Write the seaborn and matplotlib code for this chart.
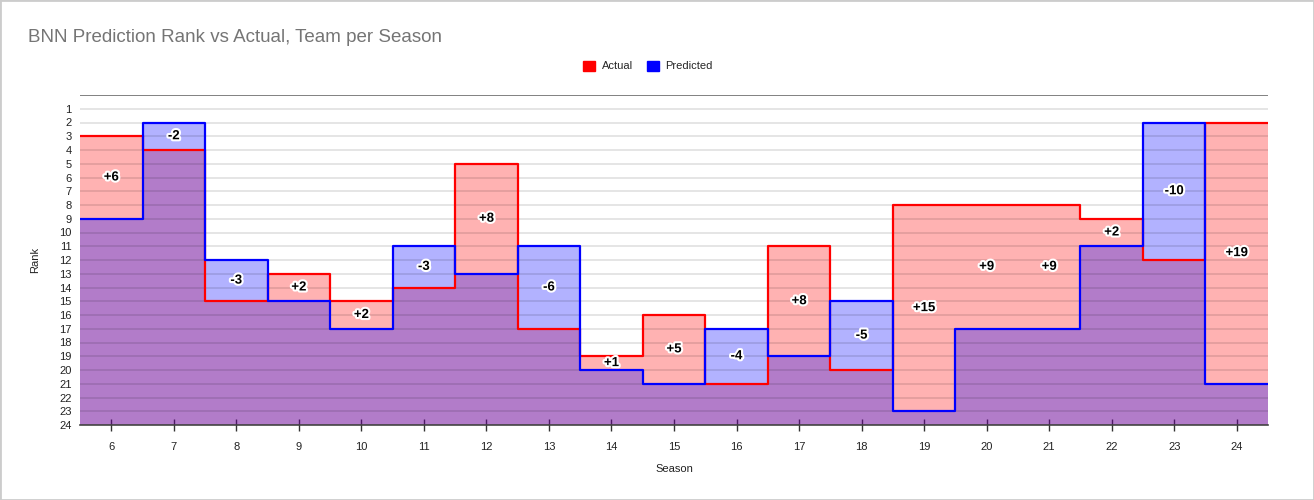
import numpy as np
import pandas as pd
import seaborn as sns
import matplotlib
matplotlib.use("Agg")
import matplotlib.pyplot as plt
import matplotlib.patheffects as pe
from matplotlib.patches import Patch, Rectangle

# data
seasons = [6, 7, 8, 9, 10, 11, 12, 13, 14, 15, 16, 17, 18, 19, 20, 21, 22, 23, 24]
actual = [3, 4, 15, 13, 15, 14, 5, 17, 19, 16, 21, 11, 20, 8, 8, 8, 9, 12, 2]
predicted = [9, 2, 12, 15, 17, 11, 13, 11, 20, 21, 17, 19, 15, 23, 17, 17, 11, 2, 21]
rank_ticks = list(range(1, 25))

sns.set_style("white")
plt.rcParams["font.family"] = ["Arial", "Liberation Sans", "DejaVu Sans"]

fig = plt.figure(figsize=(13.14, 5.0), dpi=100)
ax = fig.add_axes([80 / 1314, 1 - 425 / 500, (1268 - 80) / 1314, (425 - 95) / 500])

# step edges: each season covers [s-0.5, s+0.5]
edges = np.array(seasons + [seasons[-1] + 1]) - 0.5
df = pd.DataFrame({
    "edge": np.concatenate([edges, edges]),
    "rank": actual + [actual[-1]] + predicted + [predicted[-1]],
    "series": ["Actual"] * len(edges) + ["Predicted"] * len(edges),
})

colors = {"Actual": "#ff0000", "Predicted": "#0000ff"}
for name, vals in [("Actual", actual), ("Predicted", predicted)]:
    ax.fill_between(edges, vals + [vals[-1]], 24, step="post",
                    color=colors[name], alpha=0.3, linewidth=0, zorder=1)

sns.lineplot(data=df, x="edge", y="rank", hue="series", palette=colors,
             drawstyle="steps-post", sort=False, legend=False, linewidth=1.6,
             ax=ax, zorder=4)

# gridlines that show through the fills
for r in rank_ticks:
    ax.axhline(r, color="black", alpha=0.12, linewidth=1.2, zorder=3)
ax.axhline(0, color="#777777", linewidth=1.3, zorder=3)

# difference labels
for s, a, p in zip(seasons, actual, predicted):
    d = p - a
    ax.text(s, (a + p) / 2, f"{d:+d}", ha="center", va="center",
            fontsize=9.5, fontweight="bold", color="black", zorder=6,
            path_effects=[pe.withStroke(linewidth=3, foreground="white")])

ax.set_xlim(5.5, 24.5)
ax.set_ylim(24, 0)
ax.set_yticks(rank_ticks)
ax.set_xticks(seasons)
ax.tick_params(axis="y", left=False, length=0, labelsize=8, colors="#222222", pad=6)
ax.tick_params(axis="x", bottom=True, length=8, direction="inout", width=1,
               color="#333333", labelsize=8, labelcolor="#222222", pad=8)
for side in ["top", "left", "right"]:
    ax.spines[side].set_visible(False)
ax.spines["bottom"].set_color("#444444")
ax.spines["bottom"].set_linewidth(1.2)
ax.spines["bottom"].set_zorder(5)

ax.set_xlabel("Season", fontsize=8, color="#222222", labelpad=9)
ax.set_ylabel("Rank", fontsize=8, color="#222222", labelpad=14)

fig.text(28 / 1314, 1 - 37 / 500, "BNN Prediction Rank vs Actual, Team per Season",
         fontsize=13.5, color="#757575", va="center", ha="left")

handles = [Patch(facecolor="#ff0000", edgecolor="#ff0000", label="Actual"),
           Patch(facecolor="#0000ff", edgecolor="#0000ff", label="Predicted")]
fig.legend(handles=handles, loc="center", bbox_to_anchor=(648 / 1314, 1 - 66 / 500),
           ncol=2, frameon=False, fontsize=8, handlelength=1.05, handleheight=1.05,
           handletextpad=0.6, columnspacing=1.3)

fig.patches.append(Rectangle((0, 0), 1, 1, transform=fig.transFigure,
                             fill=False, edgecolor="#cccccc", linewidth=2))

fig.savefig("out.png", dpi=100)
